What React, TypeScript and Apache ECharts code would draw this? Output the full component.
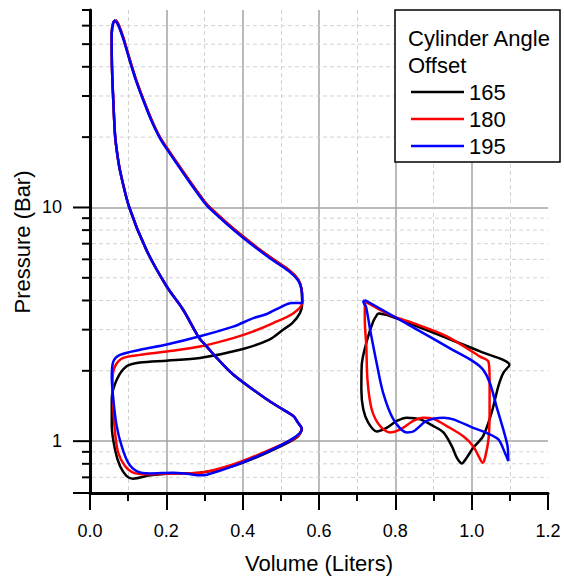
import React, { useEffect, useRef } from 'react';
import * as echarts from 'echarts';

const FONT = '"Liberation Sans", Arial, Helvetica, sans-serif';

const seriesNames = ['165', '180', '195'];
const seriesColors = ['#000000', '#ff0000', '#0000ff'];
const legendTitle = ['Cylinder Angle', 'Offset'];
const xAxisName = 'Volume (Liters)';
const yAxisName = 'Pressure (Bar)';

const yMajorTicks = [1, 10];
const yMinorTicks = [0.7, 0.8, 0.9, 2, 3, 4, 5, 6, 7, 8, 9, 20, 30, 40, 50, 60];
const yEdgeTicks = [0.6, 70];

// expansion stroke (peak -> right tip), black & red
const expansion165: [number, number][] = [
  [0.067, 63.4], [0.074, 61], [0.087, 53.4], [0.105, 42.5], [0.12, 35.5], [0.138, 29.5],
  [0.16, 24], [0.183, 20], [0.2, 18.1], [0.255, 13.4], [0.3, 10.6], [0.314, 10],
  [0.36, 8.55], [0.393, 7.7], [0.432, 6.85], [0.48, 6.0], [0.524, 5.35], [0.546, 4.9],
  [0.5546, 4.44], [0.556, 3.9],
];
const expansion195: [number, number][] = [
  [0.067, 62.8], [0.074, 60.3], [0.087, 52.8], [0.105, 42], [0.12, 35.1], [0.138, 29.2],
  [0.16, 23.7], [0.183, 19.8], [0.2, 17.9], [0.255, 13.25], [0.3, 10.48], [0.314, 9.88],
  [0.36, 8.45], [0.393, 7.6], [0.432, 6.77], [0.48, 5.93], [0.524, 5.29], [0.546, 4.85],
  [0.5546, 4.4], [0.556, 3.9],
];
// compression stroke (lower right tip -> peak), shared
const compression: [number, number][] = [
  [0.555, 1.13], [0.545, 1.2], [0.533, 1.28], [0.498, 1.39], [0.463, 1.51], [0.375, 1.93],
  [0.332, 2.27], [0.306, 2.54], [0.285, 2.78], [0.244, 3.65], [0.201, 4.59], [0.148, 6.57],
  [0.103, 10], [0.0786, 14.4], [0.07, 17.6], [0.0655, 20.5], [0.061, 28.7], [0.0576, 39.8],
  [0.0568, 55.2], [0.061, 61.9], [0.067, 63.4],
];
// lower branches (right tip -> left -> bottom -> lower right tip)
const lower165: [number, number][] = [
  [0.55, 3.53], [0.53, 3.2], [0.506, 3.0], [0.47, 2.72], [0.393, 2.46], [0.288, 2.27],
  [0.201, 2.21], [0.131, 2.17], [0.096, 2.09], [0.07, 1.83], [0.057, 1.51], [0.057, 1.16],
  [0.0655, 0.922], [0.0786, 0.782], [0.096, 0.709], [0.113, 0.691], [0.157, 0.714],
  [0.2, 0.726], [0.288, 0.733], [0.375, 0.782], [0.463, 0.892], [0.541, 1.034],
];
const lower180: [number, number][] = [
  [0.533, 3.53], [0.48, 3.2], [0.428, 2.95], [0.375, 2.76], [0.288, 2.54], [0.201, 2.42],
  [0.131, 2.34], [0.087, 2.27], [0.0655, 2.09], [0.059, 1.83], [0.061, 1.41], [0.0655, 1.09],
  [0.074, 0.892], [0.0917, 0.782], [0.113, 0.733], [0.148, 0.721], [0.2, 0.726],
  [0.288, 0.733], [0.375, 0.795], [0.463, 0.906], [0.541, 1.04],
];
const lower195: [number, number][] = [
  [0.528, 3.9], [0.5, 3.75], [0.463, 3.5], [0.428, 3.36], [0.375, 3.09], [0.288, 2.81],
  [0.201, 2.59], [0.131, 2.46], [0.0786, 2.34], [0.061, 2.19], [0.057, 1.89], [0.061, 1.51],
  [0.07, 1.16], [0.083, 0.952], [0.1, 0.809], [0.122, 0.745], [0.157, 0.728], [0.218, 0.733],
  [0.255, 0.725], [0.288, 0.714], [0.306, 0.718], [0.375, 0.782], [0.463, 0.897], [0.533, 1.03],
];
// right-hand loops
const right165: [number, number][] = [
  [0.755, 3.53], [0.742, 3.25], [0.725, 2.67], [0.712, 2.12], [0.711, 1.66], [0.716, 1.37],
  [0.729, 1.2], [0.751, 1.1], [0.777, 1.14], [0.804, 1.22], [0.83, 1.26], [0.865, 1.24],
  [0.9, 1.16], [0.926, 1.09], [0.948, 0.952], [0.961, 0.85], [0.974, 0.803], [0.987, 0.85],
  [1.004, 0.937], [1.03, 1.05], [1.052, 1.32], [1.07, 1.72], [1.083, 1.96], [1.099, 2.12],
  [1.022, 2.42], [0.935, 2.76], [0.847, 3.15], [0.777, 3.47], [0.755, 3.53],
];
const right180: [number, number][] = [
  [0.72, 3.96], [0.76, 3.65], [0.799, 3.4], [0.847, 3.2], [0.935, 2.81], [1.022, 2.3],
  [1.044, 2.19], [1.047, 1.83], [1.047, 1.32], [1.044, 1.017], [1.035, 0.85], [1.029, 0.809],
  [1.018, 0.863], [1.004, 0.952], [0.978, 1.05], [0.935, 1.16], [0.9, 1.245], [0.873, 1.26],
  [0.847, 1.22], [0.812, 1.12], [0.786, 1.09], [0.76, 1.16], [0.738, 1.37], [0.727, 1.83],
  [0.724, 2.54], [0.72, 3.3], [0.72, 3.96],
];
const right195: [number, number][] = [
  [0.72, 4.02], [0.8, 3.39], [0.9, 2.74], [0.95, 2.46], [1.005, 2.19], [1.03, 2.02],
  [1.048, 1.77], [1.065, 1.41], [1.083, 1.12], [1.094, 0.952], [1.096, 0.822], [1.087, 0.892],
  [1.07, 1.017], [1.039, 1.085], [1.004, 1.14], [0.952, 1.24], [0.926, 1.26], [0.882, 1.22],
  [0.847, 1.1], [0.83, 1.09], [0.795, 1.24], [0.768, 1.61], [0.751, 2.16], [0.734, 3.0],
  [0.723, 3.77], [0.716, 3.95], [0.72, 4.02],
];

const leftLoops = [
  [...expansion165, ...lower165, ...compression],
  [...expansion165, ...lower180, ...compression],
  [...expansion195, ...lower195, ...compression],
];
const rightLoops = [right165, right180, right195];

export default function App() {
  const ref = useRef<HTMLDivElement>(null);

  useEffect(() => {
    if (!ref.current) return;
    document.body.style.margin = '0';
    const chart = echarts.init(ref.current, undefined, { renderer: 'svg' });

    const tickData: number[][] = [
      ...yMinorTicks.map((v) => [0, v, 0]),
      ...yMajorTicks.map((v) => [0, v, 1]),
      [0, yEdgeTicks[0], 1],
      [0, yEdgeTicks[1], 2],
    ];

    const curveSeries: any[] = [];
    seriesNames.forEach((name, i) => {
      [leftLoops[i], rightLoops[i]].forEach((data) => {
        curveSeries.push({
          name,
          type: 'line',
          data,
          showSymbol: false,
          symbol: 'none',
          smooth: 0.3,
          silent: true,
          z: 3 + i,
          lineStyle: { color: seriesColors[i], width: 2.5 },
          itemStyle: { color: seriesColors[i] },
        });
      });
    });

    chart.setOption({
      animation: false,
      textStyle: { fontFamily: FONT },
      grid: { left: 90, right: 16, top: 10, bottom: 89, containLabel: false, outerBoundsMode: 'none' },
      xAxis: {
        type: 'value',
        min: 0,
        max: 1.2,
        interval: 0.2,
        name: xAxisName,
        nameLocation: 'middle',
        nameGap: 59,
        nameTextStyle: { fontSize: 22, color: '#000', fontFamily: FONT, lineHeight: 22 },
        axisLine: { show: true, onZero: false, lineStyle: { color: '#000', width: 3 } },
        axisTick: { show: true, inside: false, length: 17, lineStyle: { color: '#000', width: 2 } },
        minorTick: { show: true, splitNumber: 2, length: 8, lineStyle: { color: '#000', width: 2 } },
        splitLine: { show: true, showMinLine: false, showMaxLine: false, lineStyle: { color: '#a3a3a3', width: 1.5 } },
        minorSplitLine: { show: true, lineStyle: { color: '#d2d2d2', width: 1, type: [4, 3] } },
        axisLabel: {
          fontSize: 18,
          color: '#000',
          margin: 29,
          fontFamily: FONT,
          formatter: (v: number) => v.toFixed(1),
        },
      },
      yAxis: {
        type: 'log',
        logBase: 10,
        min: 0.6,
        max: 70,
        axisLine: { show: true, onZero: false, lineStyle: { color: '#000', width: 3 } },
        axisTick: { show: false },
        minorTick: { show: false },
        splitLine: { show: true, showMinLine: false, showMaxLine: false, lineStyle: { color: '#a3a3a3', width: 1.5 } },
        axisLabel: {
          fontSize: 18,
          color: '#000',
          margin: 28,
          fontFamily: FONT,
          showMinLabel: false,
          showMaxLabel: false,
          formatter: (v: number) => {
            const hit = yMajorTicks.find((t) => Math.abs(v - t) < 1e-6 * t);
            return hit !== undefined ? String(hit) : '';
          },
        },
      },
      legend: {
        data: seriesNames,
        orient: 'vertical',
        left: 406,
        top: 76,
        icon: 'rect',
        itemWidth: 53,
        itemHeight: 2.5,
        itemGap: 5,
        z: 10,
        selectedMode: false,
        textStyle: { fontSize: 22, color: '#000', fontFamily: FONT, lineHeight: 22 },
      },
      graphic: [
        {
          type: 'rect',
          z: 8,
          shape: { x: 395, y: 10, width: 165, height: 152 },
          style: { fill: '#ffffff', stroke: '#000000', lineWidth: 1.5 },
        },
        {
          type: 'text',
          z: 9,
          x: 408,
          y: 38,
          style: { text: legendTitle[0], fontSize: 22, fill: '#000', fontFamily: FONT, verticalAlign: 'middle' },
        },
        {
          type: 'text',
          z: 9,
          x: 408,
          y: 65,
          style: { text: legendTitle[1], fontSize: 22, fill: '#000', fontFamily: FONT, verticalAlign: 'middle' },
        },
        {
          type: 'text',
          z: 9,
          x: 22,
          y: 242,
          rotation: Math.PI / 2,
          style: { text: yAxisName, fontSize: 22, fill: '#000', fontFamily: FONT, align: 'center', verticalAlign: 'middle' },
        },
      ],
      series: [
        {
          type: 'custom',
          silent: true,
          clip: false,
          z: 1,
          encode: { x: 0, y: 1 },
          data: tickData,
          renderItem: (params: any, api: any) => {
            const v = api.value(1);
            const kind = api.value(2);
            const left = api.coord([0, v]);
            const right = api.coord([1.2, v]);
            const children: any[] = [];
            if (kind === 0) {
              children.push({
                type: 'line',
                shape: { x1: left[0] + 2, y1: left[1], x2: right[0], y2: right[1] },
                style: { stroke: '#d2d2d2', lineWidth: 1, lineDash: [4, 3] },
              });
            }
            const len = kind === 1 ? 17 : 8;
            children.push({
              type: 'line',
              shape: { x1: left[0] - len, y1: left[1], x2: left[0], y2: left[1] },
              style: { stroke: '#000', lineWidth: 2 },
            });
            return { type: 'group', children };
          },
        },
        ...curveSeries,
      ],
    });

    return () => chart.dispose();
  }, []);

  return <div ref={ref} style={{ position: 'absolute', left: 0, top: 0, width: 564, height: 582 }} />;
}
